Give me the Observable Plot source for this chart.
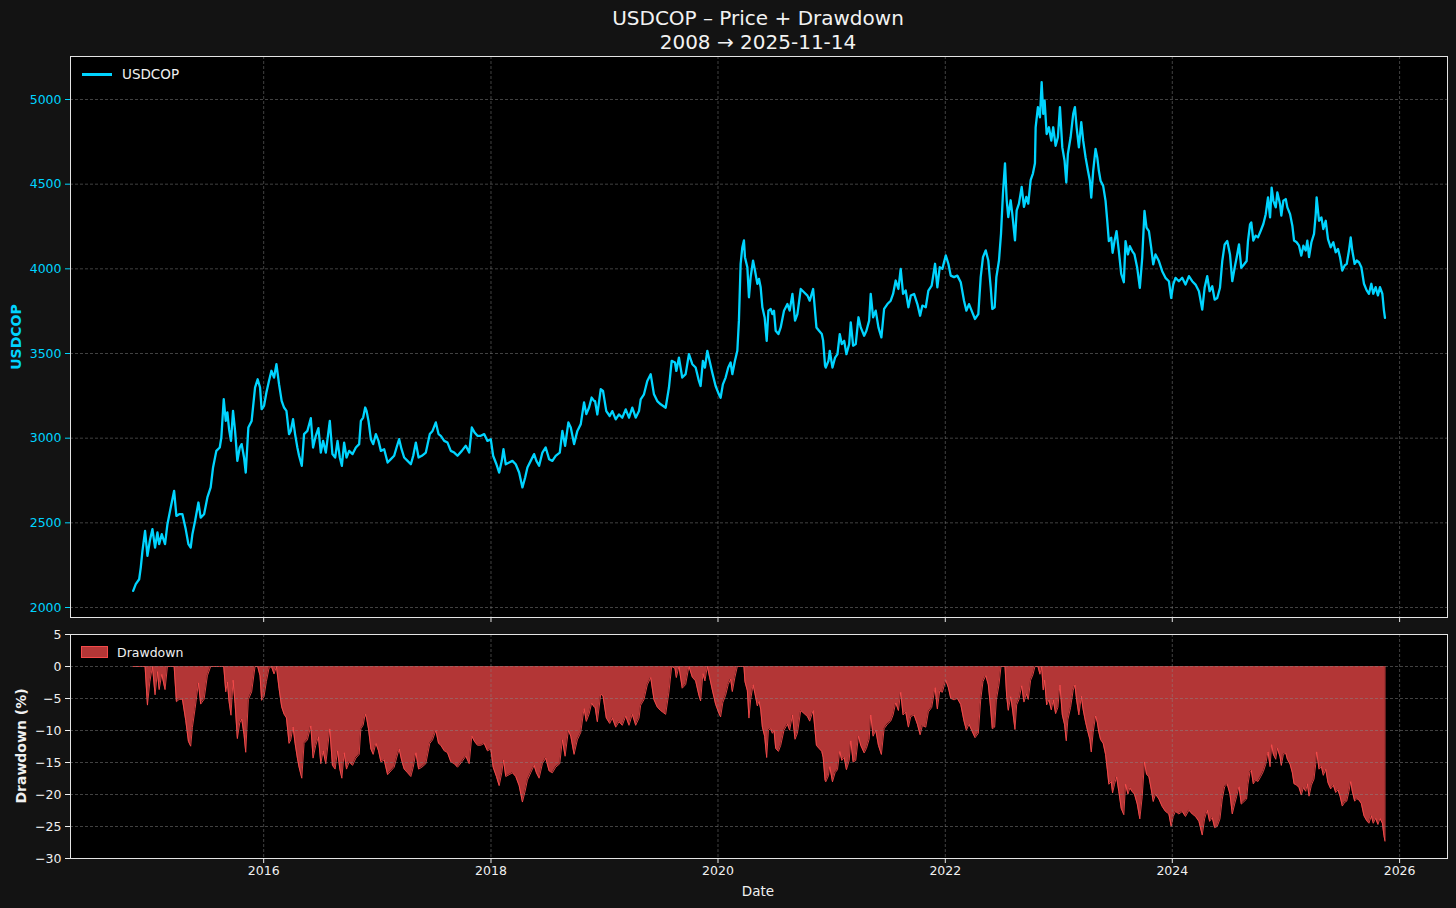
<!DOCTYPE html>
<html><head><meta charset="utf-8">
<script src="https://cdn.jsdelivr.net/npm/d3@7"></script>
<script src="https://cdn.jsdelivr.net/npm/@observablehq/plot@0.6"></script>
<style>
body{margin:0;background:#131313;font-family:"DejaVu Sans",sans-serif;}
#wrap{position:relative;width:1456px;height:908px;overflow:hidden;background:#131313;}
.abs{position:absolute;white-space:nowrap;}
#title{left:758px;top:6px;transform:translateX(-50%);text-align:center;color:#f2f2f2;font-size:20px;line-height:24px;}
.rot{transform:translate(-50%,-50%) rotate(-90deg);font-weight:bold;font-size:14px;}
#topSvg{position:absolute;left:0;top:50px;}
#botSvg{position:absolute;left:0;top:625px;}
#wrap svg text{font-size:12.5px !important;font-family:"DejaVu Sans",sans-serif !important;}
</style></head><body><div id="wrap"></div>
<script>
const titleText = "USDCOP – Price + Drawdown";
const subtitleText = "2008 → 2025-11-14";
const seriesName = "USDCOP";
const ddName = "Drawdown";
const xLabel = "Date";
const yLabelTop = "USDCOP";
const yLabelBottom = "Drawdown (%)";
const priceTicks = [2000, 2500, 3000, 3500, 4000, 4500, 5000];
const ddTicks = [-30, -25, -20, -15, -10, -5, 0, 5];
const yearTicks = [2016, 2018, 2020, 2022, 2024, 2026];

// dates as decimal years
const dateYears = [
2014.850,2014.873,2014.903,2014.917,2014.932,2014.955,2014.976,2014.997,2015.020,2015.043,2015.064,2015.079,2015.102,2015.131,2015.152,2015.181,2015.211,2015.231,2015.255,2015.284,2015.313,2015.337,2015.357,2015.372,2015.396,2015.425,2015.445,2015.475,2015.504,2015.533,2015.554,2015.583,2015.613,2015.627,2015.648,2015.666,2015.680,2015.695,2015.712,2015.730,2015.748,2015.768,2015.789,2015.806,2015.827,2015.842,2015.865,2015.894,2015.924,2015.947,2015.968,2015.982,2016.003,2016.024,2016.047,2016.068,2016.091,2016.112,2016.135,2016.158,2016.179,2016.200,2016.223,2016.238,2016.258,2016.276,2016.296,2016.311,2016.335,2016.355,2016.384,2016.414,2016.434,2016.458,2016.481,2016.502,2016.522,2016.546,2016.581,2016.604,2016.628,2016.649,2016.669,2016.687,2016.707,2016.728,2016.751,2016.781,2016.810,2016.839,2016.854,2016.874,2016.892,
2016.904,2016.921,2016.942,2016.962,2016.986,2017.009,2017.030,2017.059,2017.089,2017.118,2017.147,2017.168,2017.191,2017.212,2017.235,2017.265,2017.294,2017.315,2017.338,2017.362,2017.391,2017.426,2017.461,2017.485,2017.514,2017.538,2017.558,2017.588,2017.617,2017.646,2017.676,2017.705,2017.743,2017.778,2017.808,2017.831,2017.855,2017.881,2017.910,2017.940,2017.969,2017.998,2018.019,2018.048,2018.072,2018.095,2018.110,2018.130,2018.160,2018.189,2018.218,2018.248,2018.277,2018.301,2018.321,2018.350,2018.380,2018.400,2018.424,2018.453,2018.482,2018.512,2018.541,2018.570,2018.606,2018.629,2018.653,2018.682,2018.703,2018.732,2018.761,2018.791,2018.820,2018.840,2018.864,2018.887,2018.908,
2018.917,2018.937,2018.967,2018.987,2019.016,2019.046,2019.069,2019.099,2019.128,2019.157,2019.187,2019.216,2019.245,2019.275,2019.304,2019.319,2019.348,2019.377,2019.407,2019.436,2019.465,2019.495,2019.539,2019.568,2019.592,2019.621,2019.633,2019.656,2019.685,2019.715,2019.744,2019.774,2019.803,2019.832,2019.847,2019.867,2019.885,2019.906,2019.926,2019.950,2019.979,2020.008,2020.023,2020.043,2020.067,2020.090,2020.111,2020.126,2020.149,2020.170,2020.184,2020.199,2020.214,2020.228,2020.237,2020.258,2020.272,2020.287,2020.308,2020.325,2020.346,2020.360,2020.375,2020.390,2020.410,2020.428,2020.443,2020.463,2020.478,2020.492,2020.507,2020.531,2020.551,2020.580,2020.610,2020.630,2020.654,2020.677,2020.698,2020.727,2020.756,2020.786,2020.806,2020.836,2020.850,2020.865,2020.888,2020.912,2020.924,2020.941,
2020.947,2020.971,2020.982,2021.006,2021.029,2021.050,2021.070,2021.088,2021.109,2021.129,2021.153,2021.167,2021.188,2021.211,2021.235,2021.255,2021.285,2021.305,2021.329,2021.343,2021.364,2021.387,2021.411,2021.437,2021.461,2021.490,2021.519,2021.540,2021.563,2021.587,2021.607,2021.628,2021.651,2021.675,2021.696,2021.725,2021.754,2021.778,2021.798,2021.828,2021.851,2021.880,2021.910,2021.930,2021.951,2021.974,2022.004,2022.027,2022.048,2022.077,2022.106,2022.136,2022.165,2022.186,2022.209,2022.238,2022.262,2022.291,2022.312,2022.332,2022.356,2022.379,2022.400,2022.414,2022.435,2022.450,2022.473,2022.491,2022.508,2022.526,2022.541,2022.555,2022.576,2022.590,2022.614,2022.629,2022.649,2022.673,2022.693,2022.714,2022.731,2022.752,2022.772,2022.790,
2022.796,2022.816,2022.834,2022.849,2022.863,2022.875,2022.893,2022.913,2022.934,2022.951,2022.972,2022.992,2023.010,2023.031,2023.051,2023.066,2023.080,2023.104,2023.127,2023.142,2023.157,2023.177,2023.198,2023.215,2023.236,2023.257,2023.274,2023.286,2023.303,2023.324,2023.339,2023.353,2023.368,2023.391,2023.412,2023.427,2023.441,2023.462,2023.474,2023.491,2023.509,2023.529,2023.550,2023.573,2023.588,2023.609,2023.626,2023.647,2023.667,2023.691,2023.714,2023.735,2023.755,2023.773,2023.794,2023.814,2023.832,2023.852,2023.882,2023.911,2023.940,2023.970,2023.990,2024.008,2024.028,2024.058,2024.087,2024.116,2024.146,2024.175,2024.204,2024.234,2024.263,2024.284,2024.307,2024.328,2024.351,2024.372,2024.395,2024.419,2024.439,2024.460,2024.483,2024.507,2024.527,2024.548,2024.565,2024.586,2024.606,2024.630,2024.653,2024.665,2024.683,
2024.694,2024.712,2024.732,2024.753,2024.777,2024.800,2024.821,2024.841,2024.859,2024.873,2024.888,2024.909,2024.923,2024.947,2024.958,2024.976,2024.997,2025.011,2025.035,2025.055,2025.070,2025.093,2025.114,2025.134,2025.152,2025.173,2025.187,2025.202,2025.223,2025.246,2025.261,2025.269,2025.290,2025.311,2025.328,2025.349,2025.369,2025.393,2025.416,2025.437,2025.457,2025.475,2025.495,2025.516,2025.534,2025.554,2025.569,2025.583,2025.604,2025.622,2025.642,2025.663,2025.686,2025.710,2025.730,2025.751,2025.768,2025.789,2025.809,2025.827,2025.848,2025.862,2025.871
];
const prices = [
2098,2138,2167,2236,2335,2453,2305,2394,2463,2354,2443,2374,2433,2374,2492,2591,2689,2541,2551,2551,2463,2374,2354,2433,2512,2620,2531,2551,2650,2709,2827,2925,2945,3004,3230,3102,3152,3053,2984,3161,3043,2866,2945,2965,2886,2797,3063,3102,3299,3348,3299,3171,3191,3270,3339,3398,3358,3437,3319,3220,3181,3161,3024,3043,3112,3024,2945,2896,2837,3024,3043,3118,2945,3014,3059,2915,2984,2915,3102,2906,2886,2984,2886,2837,2974,2886,2925,2906,2945,2965,3102,3122,3181,
3161,3102,2994,2965,3024,2984,2925,2935,2856,2876,2896,2945,2994,2935,2886,2866,2846,2896,2974,2886,2896,2915,3024,3043,3093,3024,3014,2984,2974,2925,2915,2896,2925,2955,2915,3063,3034,3014,3014,3024,2984,2994,2896,2846,2797,2866,2935,2846,2856,2866,2846,2797,2709,2768,2827,2866,2906,2866,2837,2915,2945,2876,2866,2896,2915,3043,2955,3093,3063,2965,3043,3083,3211,3142,3181,3240,3220,
3219,3140,3289,3279,3160,3131,3160,3111,3140,3121,3170,3121,3180,3121,3160,3229,3259,3338,3378,3259,3219,3200,3180,3299,3457,3447,3397,3476,3358,3378,3496,3437,3417,3338,3308,3457,3417,3516,3457,3387,3308,3259,3239,3318,3358,3417,3447,3378,3457,3516,3694,4030,4128,4168,4069,4010,3832,3951,4049,3990,3911,3941,3891,3773,3713,3575,3753,3763,3733,3753,3634,3615,3654,3753,3792,3753,3852,3694,3733,3881,3862,3842,3812,3881,3773,3654,3634,3615,3575,3427,
3417,3457,3516,3417,3476,3496,3615,3556,3575,3496,3556,3684,3546,3556,3714,3654,3605,3634,3694,3852,3714,3753,3654,3595,3763,3792,3812,3852,3931,3881,4000,3852,3872,3773,3842,3852,3792,3723,3783,3773,3872,3901,4030,3891,4010,4000,4079,4030,3960,3951,3960,3921,3812,3753,3792,3743,3704,3733,3951,4069,4109,4049,3891,3763,3773,3951,4049,4208,4445,4623,4405,4306,4405,4326,4168,4346,4385,4484,4366,4425,4385,4524,4563,4623,
4836,4955,4895,5103,4915,4994,4796,4836,4757,4836,4727,4777,4955,4717,4638,4510,4678,4777,4915,4955,4836,4717,4866,4757,4658,4579,4520,4421,4579,4708,4658,4579,4520,4490,4401,4283,4164,4184,4095,4164,4223,4105,3970,3921,4164,4085,4134,4105,4085,4006,3888,4065,4342,4243,4223,4125,4026,4085,4046,3986,3947,3927,3828,3907,3947,3927,3947,3907,3957,3927,3907,3868,3759,3888,3957,3868,3897,3818,3828,3888,4046,4144,4164,4085,3927,4006,4065,4144,4006,4026,4046,4164,4263,
4274,4167,4196,4186,4225,4265,4323,4422,4304,4480,4402,4363,4451,4382,4314,4402,4412,4363,4323,4255,4167,4157,4137,4078,4137,4108,4167,4069,4157,4206,4323,4422,4284,4304,4235,4284,4176,4127,4157,4098,4118,4069,3990,4020,4029,4108,4186,4108,4029,4049,4039,4010,3912,3873,3853,3912,3853,3892,3843,3892,3853,3755,3710
];

const toDate = y => { const Y = Math.floor(y); const a = Date.UTC(Y, 0, 1), b = Date.UTC(Y + 1, 0, 1); return new Date(a + (y - Y) * (b - a)); };
const rows = dateYears.map((t, i) => ({date: toDate(t), price: prices[i]}));
let peak = -Infinity;
rows.forEach(r => { peak = Math.max(peak, r.price); r.dd = (r.price / peak - 1) * 100; });
const lastRow = rows[rows.length - 1];

const xDomain = [toDate(2014.298), toDate(2026.422)];
const xTicks = yearTicks.map(y => new Date(Date.UTC(y, 0, 1)));
const CYAN = "#00d4ff", GRID = "#8a8a8a", FRAME = "#e4e4e4", RED = "#ff4d4d";
const plain = d => d < 0 ? "\u2212" + Math.abs(d) : String(d);
const FS = 12.5;
const common = {
  width: 1456, marginLeft: 70, marginRight: 9,
  style: {background: "transparent", fontFamily: "DejaVu Sans", fontSize: FS + "px", color: "#f0f0f0", overflow: "visible"}
};
const grid = (yt) => [
  Plot.ruleX(xTicks, {stroke: GRID, strokeOpacity: 0.6, strokeDasharray: "3,2", strokeWidth: 0.8}),
  Plot.ruleY(yt, {stroke: GRID, strokeOpacity: 0.6, strokeDasharray: "3,2", strokeWidth: 0.8})
];

const topPlot = Plot.plot({
  ...common, height: 575, marginTop: 6, marginBottom: 8,
  x: {type: "utc", domain: xDomain},
  y: {domain: [1941, 5254]},
  marks: [
    Plot.frame({fill: "#000"}),
    ...grid(priceTicks),
    Plot.line(rows, {x: "date", y: "price", stroke: CYAN, strokeWidth: 2.3, strokeLinejoin: "round"}),
    Plot.frame({stroke: FRAME}),
    Plot.axisY({ticks: priceTicks, tickSize: 5, tickPadding: 4, tickFormat: plain, color: CYAN, fontSize: FS, label: null}),
    Plot.axisX({ticks: xTicks, tickSize: 5, tickFormat: () => "", stroke: FRAME, label: null})
  ]
});
topPlot.id = "topSvg";

const botPlot = Plot.plot({
  ...common, height: 283, marginTop: 9, marginBottom: 50,
  x: {type: "utc", domain: xDomain},
  y: {domain: [-30, 5]},
  marks: [
    Plot.frame({fill: "#000"}),
    Plot.areaY(rows, {x: "date", y: "dd", fill: RED, fillOpacity: 0.7}),
    Plot.lineY(rows, {x: "date", y: "dd", stroke: RED, strokeOpacity: 0.85, strokeWidth: 1}),
    Plot.ruleX([lastRow], {x: "date", y1: 0, y2: "dd", stroke: RED, strokeOpacity: 0.85, strokeWidth: 1}),
    ...grid(ddTicks),
    Plot.frame({stroke: FRAME}),
    Plot.axisY({ticks: ddTicks, tickSize: 5, tickPadding: 4, tickFormat: plain, color: "#f0f0f0", fontSize: FS, label: null}),
    Plot.axisX({ticks: xTicks, tickSize: 5, tickPadding: 3, tickFormat: d3.utcFormat("%Y"), color: "#f0f0f0", fontSize: FS, label: null})
  ]
});
botPlot.id = "botSvg";

const wrap = document.getElementById("wrap");
const add = (html) => { const d = document.createElement("div"); d.innerHTML = html; const el = d.firstElementChild; wrap.appendChild(el); return el; };
add(`<div id="title" class="abs">${titleText}<br>${subtitleText}</div>`);
wrap.appendChild(topPlot);
wrap.appendChild(botPlot);
d3.selectAll("#wrap svg text").attr("font-size", FS).style("font-size", FS + "px");
add(`<div class="abs rot" style="left:16px;top:337px;color:${CYAN}">${yLabelTop}</div>`);
add(`<div class="abs rot" style="left:21px;top:746px;color:#f0f0f0">${yLabelBottom}</div>`);
add(`<div class="abs" style="left:758px;top:891px;transform:translate(-50%,-50%);color:#f0f0f0;font-size:13.5px">${xLabel}</div>`);
// legends
add(`<div class="abs" style="left:82px;top:73px;width:30px;height:2.5px;background:${CYAN}"></div>`);
add(`<div class="abs" style="left:122px;top:74px;transform:translateY(-50%);color:#f0f0f0;font-size:13.5px">${seriesName}</div>`);
add(`<div class="abs" style="left:81px;top:646px;width:25px;height:10px;background:rgba(255,77,77,0.7);border:1px solid rgba(255,77,77,0.85)"></div>`);
add(`<div class="abs" style="left:117px;top:652px;transform:translateY(-50%);color:#f0f0f0;font-size:12.5px">${ddName}</div>`);
</script>
</body></html>
